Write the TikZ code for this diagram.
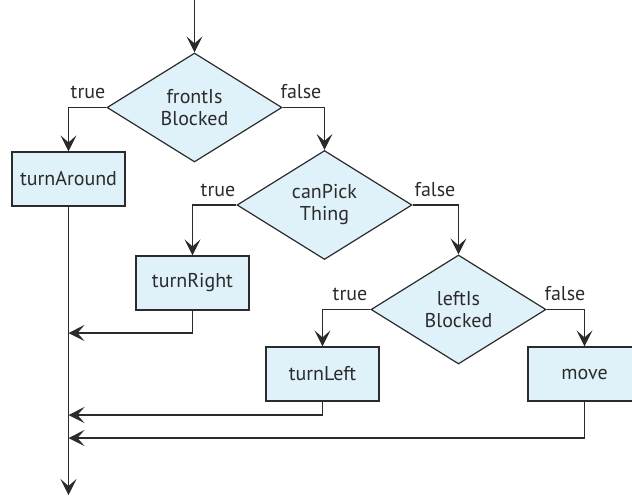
\documentclass[tikz,border=0pt]{standalone}
\usepackage{fontspec}
\setmainfont{PT Sans}
\usetikzlibrary{shapes.geometric,arrows.meta}
\definecolor{fillb}{HTML}{DFF1F9}
\definecolor{ink}{HTML}{2B2B2B}
\tikzset{
  txt/.style={font=\fontsize{20}{22}\selectfont, text=ink},
  decision/.style={txt, diamond, draw=ink, fill=fillb, line width=1.2pt, minimum width=175pt, minimum height=109pt, inner sep=0pt, align=center},
  action/.style={txt, rectangle, draw=ink, fill=fillb, line width=1.2pt, minimum width=113pt, minimum height=54pt, inner sep=0pt},
  flow/.style={draw=ink, line width=1.2pt, -{Stealth[length=16pt,width=16pt,inset=7pt]}},
  lbl/.style={txt, anchor=south, inner sep=0pt}
}
\begin{document}
\begin{tikzpicture}[x=1pt,y=-1pt]
\useasboundingbox (0,0) rectangle (632,496);
\clip (0,0) rectangle (632,496);
% decisions
\node[decision] (d1) at (194.5,107.5) {frontIs\\Blocked};
\node[decision] (d2) at (324.5,205) {canPick\\Thing};
\node[decision] (d3) at (458.5,309.5) {leftIs\\Blocked};
% actions
\node[action] (a1) at (68.5,179) {turnAround};
\node[action] (a2) at (192.5,283) {turnRight};
\node[action] (a3) at (322.5,374) {turnLeft};
\node[action] (a4) at (584.5,374) {move};
% entry and exit
\coordinate (start) at (194.5,0);
\coordinate (finish) at (68.5,495);
\coordinate (m1) at (68.5,333);
\coordinate (m2) at (68.5,415);
\coordinate (m3) at (68.5,438);
\draw[flow] (start) -- (d1.north);
\draw[flow] (d1.west) -| (a1.north);
\draw[flow] (d1.east) -| (d2.north);
\draw[flow] (d2.west) -| (a2.north);
\draw[flow] (d2.east) -| (d3.north);
\draw[flow] (d3.west) -| (a3.north);
\draw[flow] (d3.east) -| (a4.north);
\draw[flow] (a1.south) -- (finish);
\draw[flow] (a2.south) |- (m1);
\draw[flow] (a3.south) |- (m2);
\draw[flow] (a4.south) |- (m3);
% labels
\node[lbl] (t1) at (88,99) {true};
\node[lbl] (f1) at (301,99) {false};
\node[lbl] (t2) at (218,197) {true};
\node[lbl] (f2) at (435,197) {false};
\node[lbl] (t3) at (350,301) {true};
\node[lbl] (f3) at (565,301) {false};
\end{tikzpicture}
\end{document}
